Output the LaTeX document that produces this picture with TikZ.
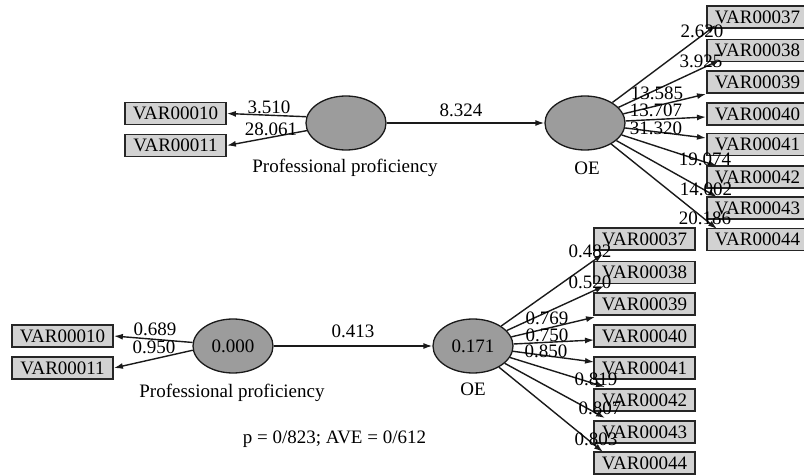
\documentclass[tikz,border=0pt]{standalone}
\usepackage{fontspec}
\setmainfont{Liberation Serif}
\usetikzlibrary{arrows.meta,shapes.geometric}
\definecolor{latentfill}{HTML}{9C9C9C}
\definecolor{itemfill}{HTML}{D2D2D2}
\definecolor{inkline}{HTML}{1A1A1A}
\tikzset{
  every node/.style={font=\fontsize{19}{22}\selectfont, inner sep=0pt},
  latent/.style={ellipse, draw=inkline, line width=1.3pt, fill=latentfill,
    minimum width=80pt, minimum height=54pt},
  item/.style={rectangle, draw=black!85, line width=1.8pt, fill=itemfill,
    minimum width=101pt, minimum height=22pt},
  path/.style={draw=inkline, line width=1.4pt, -{Latex[length=9pt,width=6pt]}},
  coef/.style={anchor=center},
  caption/.style={anchor=base}
}
\begin{document}
\begin{tikzpicture}[x=1pt,y=-1pt]
\useasboundingbox (0,0) rectangle (804,476);

% ---------- t-values model ----------
\node[latent] (pp1) at (346,123) {};
\node[latent] (oe1) at (585,123) {};
\node[caption] (pp1lab) at (345,173) {Professional proficiency};
\node[caption] (oe1lab) at (587,175) {OE};

\node[item] (u10) at (175.5,113.5) {VAR00010};
\node[item] (u11) at (175.5,145.5) {VAR00011};

\node[item] (u37) at (757.5,17) {VAR00037};
\node[item] (u38) at (757.5,50.5) {VAR00038};
\node[item] (u39) at (757.5,82) {VAR00039};
\node[item] (u40) at (757.5,114) {VAR00040};
\node[item] (u41) at (757.5,144.5) {VAR00041};
\node[item] (u42) at (757.5,177) {VAR00042};
\node[item] (u43) at (757.5,208) {VAR00043};
\node[item] (u44) at (757.5,239.5) {VAR00044};

\coordinate (ut37) at (716,25);
\coordinate (ut38) at (720,60);
\coordinate (ut39) at (706,94);
\coordinate (ut40) at (706,117);
\coordinate (ut41) at (706,138);
\coordinate (ut42) at (717,166);
\coordinate (ut43) at (717,197);
\coordinate (ut44) at (717,229);

\draw[path] (pp1.171) -- (u10.east);
\draw[path] (pp1.191) -- (u11.east);
\draw[path] (pp1) -- (oe1);
\foreach \k in {37,...,44} { \draw[path] (oe1) -- (ut\k); }

\node[coef] (c10) at (269,107) {3.510};
\node[coef] (c11) at (271,129) {28.061};
\node[coef] (cpo) at (461,110) {8.324};
\node[coef] (c37) at (702,31) {2.620};
\node[coef] (c38) at (701,61) {3.925};
\node[coef] (c39) at (657,93) {13.585};
\node[coef] (c40) at (656,110) {13.707};
\node[coef] (c41) at (656,128) {31.320};
\node[coef] (c42) at (705,159) {19.074};
\node[coef] (c43) at (706,189) {14.002};
\node[coef] (c44) at (705,218) {20.186};

% ---------- loadings model ----------
\node[latent] (pp2) at (233,346) {0.000};
\node[latent] (oe2) at (473,346) {0.171};
\node[caption] (pp2lab) at (232,397) {Professional proficiency};
\node[caption] (oe2lab) at (473,395) {OE};
\node[caption] (fit) at (334.5,443) {p = 0/823; AVE = 0/612};

\node[item] (v10) at (62.5,336) {VAR00010};
\node[item] (v11) at (62.5,368) {VAR00011};

\node[item] (v37) at (644.5,239) {VAR00037};
\node[item] (v38) at (644.5,272.5) {VAR00038};
\node[item] (v39) at (644.5,304) {VAR00039};
\node[item] (v40) at (644.5,336) {VAR00040};
\node[item] (v41) at (644.5,368) {VAR00041};
\node[item] (v42) at (644.5,400) {VAR00042};
\node[item] (v43) at (644.5,432) {VAR00043};
\node[item] (v44) at (644.5,463) {VAR00044};

\coordinate (vt37) at (603,254);
\coordinate (vt38) at (604,286);
\coordinate (vt39) at (595,317);
\coordinate (vt40) at (594,340);
\coordinate (vt41) at (594,362);
\coordinate (vt42) at (605,387);
\coordinate (vt43) at (605,418);
\coordinate (vt44) at (603,452);

\draw[path] (pp2.175) -- (v10.east);
\draw[path] (pp2.186) -- (v11.east);
\draw[path] (pp2) -- (oe2);
\foreach \k in {37,...,44} { \draw[path] (oe2) -- (vt\k); }

\node[coef] (d10) at (155,329) {0.689};
\node[coef] (d11) at (154,347) {0.950};
\node[coef] (dpo) at (353,331) {0.413};
\node[coef] (d37) at (590,251) {0.482};
\node[coef] (d38) at (590,282) {0.520};
\node[coef] (d39) at (547,318) {0.769};
\node[coef] (d40) at (547,335) {0.750};
\node[coef] (d41) at (546,351) {0.850};
\node[coef] (d42) at (596,379) {0.819};
\node[coef] (d43) at (600,408) {0.807};
\node[coef] (d44) at (596,439) {0.803};
\end{tikzpicture}
\end{document}
